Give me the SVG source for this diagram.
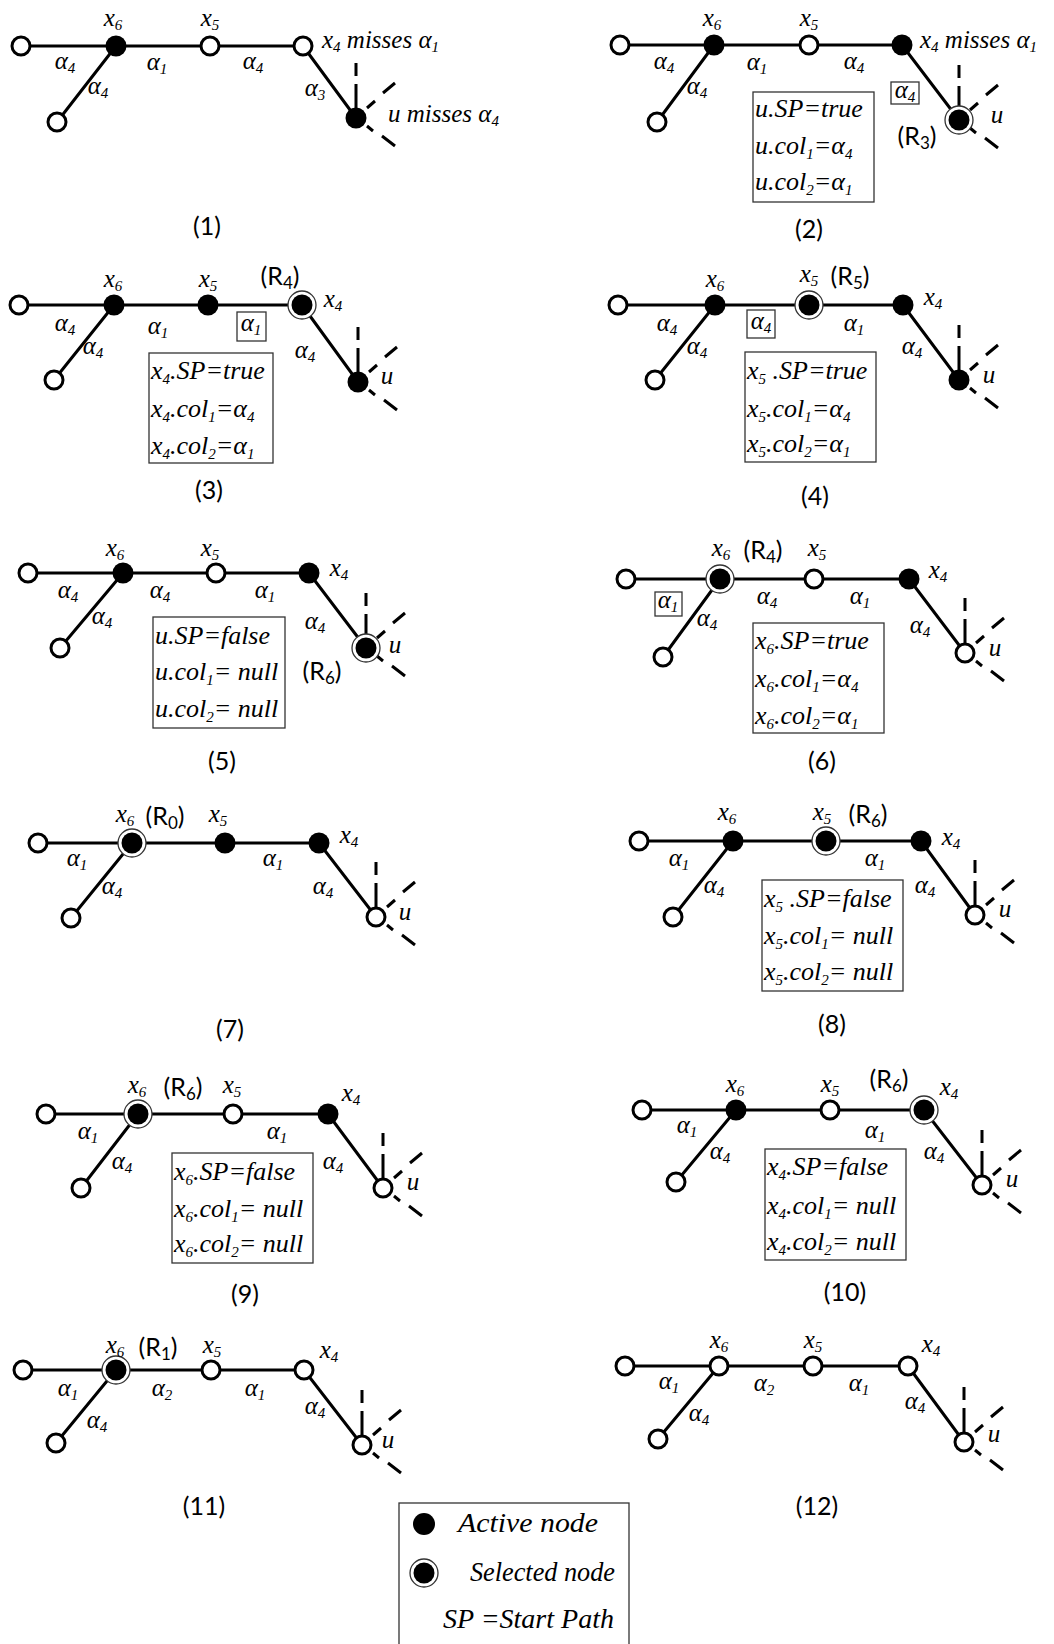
<svg xmlns="http://www.w3.org/2000/svg" xmlns:xlink="http://www.w3.org/1999/xlink" width="1054" height="1644" viewBox="0 0 1054 1644">
<style>
.e{stroke:#000;stroke-width:3;fill:none}
.o{fill:#fff;stroke:#000;stroke-width:3}
.f{fill:#000}
.r{fill:#fff;stroke:#333;stroke-width:1.3}
text{font-family:"Liberation Serif",serif;font-style:italic;font-size:25px;fill:#000}
.l{text-anchor:middle}
.s{font-size:15px}
.bt{font-size:26px}
.c{font-family:Lato,"Liberation Sans",sans-serif;font-style:normal;font-size:25px;text-anchor:middle}
.cs{font-size:17px}
.bx{fill:#fff;stroke:#333;stroke-width:1.3}
.ab{fill:none;stroke:#333;stroke-width:1.3}
.lg{font-size:28px}
</style>
<defs>
<g id="ud"><path d="M0,-55V-42M0,-34V-10M11,-10L19,-17M27,-25L39,-35M11,8L17,13M26,18L39,28" stroke="#000" stroke-width="3" fill="none"/></g>
</defs>
<rect width="1054" height="1644" fill="#fff"/>

<!-- Panel 1 -->
<g id="panel1">
<g id="p1-edges">
<path class="e" d="M21,46H303M116,46L57,122M303,46L356,118"/>
<use xlink:href="#ud" x="356" y="118"/>
<text class="l" x="65" y="69">α<tspan class="s" dy="4">4</tspan></text>
<text class="l" x="157" y="70">α<tspan class="s" dy="4">1</tspan></text>
<text class="l" x="253" y="69">α<tspan class="s" dy="4">4</tspan></text>
<text class="l" x="98" y="94">α<tspan class="s" dy="4">4</tspan></text>
<text class="l" x="315" y="96">α<tspan class="s" dy="4">3</tspan></text>
</g>
<g id="p1-n0"><circle class="o" cx="21" cy="46" r="9"/></g>
<g id="p1-x6"><circle class="f" cx="116" cy="46" r="10.5"/><text class="l" x="113" y="26">x<tspan class="s" dy="4">6</tspan></text></g>
<g id="p1-x5"><circle class="o" cx="210" cy="46" r="9"/><text class="l" x="210" y="26">x<tspan class="s" dy="4">5</tspan></text></g>
<g id="p1-x4"><circle class="o" cx="303" cy="46" r="9"/><text x="322" y="48">x<tspan class="s" dy="4">4</tspan><tspan dy="-4"> misses α</tspan><tspan class="s" dy="4">1</tspan></text></g>
<g id="p1-n1"><circle class="o" cx="57" cy="122" r="9"/></g>
<g id="p1-u"><circle class="f" cx="356" cy="118" r="10.5"/><text x="388" y="122">u misses α<tspan class="s" dy="4">4</tspan></text></g>
<text class="c" x="207" y="235">(1)</text>
</g>

<!-- Panel 2 -->
<g id="panel2">
<g id="p2-edges">
<path class="e" d="M620,45H902M714,45L657,122M902,45L959,120"/>
<use xlink:href="#ud" x="959" y="120"/>
<text class="l" x="664" y="69">α<tspan class="s" dy="4">4</tspan></text>
<text class="l" x="757" y="70">α<tspan class="s" dy="4">1</tspan></text>
<text class="l" x="854" y="69">α<tspan class="s" dy="4">4</tspan></text>
<text class="l" x="697" y="94">α<tspan class="s" dy="4">4</tspan></text>
<rect class="ab" x="891" y="82" width="28" height="22"/>
<text class="l" x="905" y="98">α<tspan class="s" dy="4">4</tspan></text>
</g>
<g id="p2-n0"><circle class="o" cx="620" cy="45" r="9"/></g>
<g id="p2-x6"><circle class="f" cx="714" cy="45" r="10.5"/><text class="l" x="712" y="26">x<tspan class="s" dy="4">6</tspan></text></g>
<g id="p2-x5"><circle class="o" cx="809" cy="45" r="9"/><text class="l" x="809" y="26">x<tspan class="s" dy="4">5</tspan></text></g>
<g id="p2-x4"><circle class="f" cx="902" cy="45" r="10.5"/><text x="920" y="48">x<tspan class="s" dy="4">4</tspan><tspan dy="-4"> misses α</tspan><tspan class="s" dy="4">1</tspan></text></g>
<g id="p2-n1"><circle class="o" cx="657" cy="122" r="9"/></g>
<g id="p2-u"><circle class="r" cx="959" cy="120" r="14"/><circle class="f" cx="959" cy="120" r="10.5"/><text class="l" x="997" y="123">u</text><text class="c" x="917" y="145">(R<tspan class="cs" dy="4">3</tspan><tspan dy="-4">)</tspan></text></g>
<g id="p2-box"><rect class="bx" x="753" y="92" width="121" height="110"/>
<text class="bt" x="755" y="117">u.SP=true</text>
<text class="bt" x="755" y="154">u.col<tspan class="s" dy="5">1</tspan><tspan dy="-5">=α</tspan><tspan class="s" dy="5">4</tspan></text>
<text class="bt" x="755" y="190">u.col<tspan class="s" dy="5">2</tspan><tspan dy="-5">=α</tspan><tspan class="s" dy="5">1</tspan></text></g>
<text class="c" x="809" y="238">(2)</text>
</g>

<!-- Panel 3 -->
<g id="panel3">
<g id="p3-edges">
<path class="e" d="M19,305H302M114,305L54,380M302,305L358,382"/>
<use xlink:href="#ud" x="358" y="382"/>
<text class="l" x="65" y="331">α<tspan class="s" dy="4">4</tspan></text>
<text class="l" x="158" y="334">α<tspan class="s" dy="4">1</tspan></text>
<rect class="ab" x="237" y="312" width="29" height="29"/>
<text class="l" x="251" y="331">α<tspan class="s" dy="4">1</tspan></text>
<text class="l" x="93" y="354">α<tspan class="s" dy="4">4</tspan></text>
<text class="l" x="305" y="358">α<tspan class="s" dy="4">4</tspan></text>
</g>
<g id="p3-n0"><circle class="o" cx="19" cy="305" r="9"/></g>
<g id="p3-x6"><circle class="f" cx="114" cy="305" r="10.5"/><text class="l" x="113" y="287">x<tspan class="s" dy="4">6</tspan></text></g>
<g id="p3-x5"><circle class="f" cx="208" cy="305" r="10.5"/><text class="l" x="208" y="287">x<tspan class="s" dy="4">5</tspan></text></g>
<g id="p3-x4"><circle class="r" cx="302" cy="305" r="14"/><circle class="f" cx="302" cy="305" r="10.5"/><text class="l" x="333" y="307">x<tspan class="s" dy="4">4</tspan></text><text class="c" x="280" y="285">(R<tspan class="cs" dy="4">4</tspan><tspan dy="-4">)</tspan></text></g>
<g id="p3-n1"><circle class="o" cx="54" cy="380" r="9"/></g>
<g id="p3-u"><circle class="f" cx="358" cy="382" r="10.5"/><text class="l" x="387" y="384">u</text></g>
<g id="p3-box"><rect class="bx" x="149" y="353" width="124" height="110"/>
<text class="bt" x="151" y="379">x<tspan class="s" dy="5">4</tspan><tspan dy="-5">.SP=true</tspan></text>
<text class="bt" x="151" y="417">x<tspan class="s" dy="5">4</tspan><tspan dy="-5">.col</tspan><tspan class="s" dy="5">1</tspan><tspan dy="-5">=α</tspan><tspan class="s" dy="5">4</tspan></text>
<text class="bt" x="151" y="454">x<tspan class="s" dy="5">4</tspan><tspan dy="-5">.col</tspan><tspan class="s" dy="5">2</tspan><tspan dy="-5">=α</tspan><tspan class="s" dy="5">1</tspan></text></g>
<text class="c" x="209" y="499">(3)</text>
</g>

<!-- Panel 4 -->
<g id="panel4">
<g id="p4-edges">
<path class="e" d="M618,305H903M715,305L655,380M903,305L959,380"/>
<use xlink:href="#ud" x="959" y="380"/>
<text class="l" x="667" y="331">α<tspan class="s" dy="4">4</tspan></text>
<rect class="ab" x="747" y="310" width="28" height="28"/>
<text class="l" x="761" y="329">α<tspan class="s" dy="4">4</tspan></text>
<text class="l" x="854" y="331">α<tspan class="s" dy="4">1</tspan></text>
<text class="l" x="697" y="354">α<tspan class="s" dy="4">4</tspan></text>
<text class="l" x="912" y="354">α<tspan class="s" dy="4">4</tspan></text>
</g>
<g id="p4-n0"><circle class="o" cx="618" cy="305" r="9"/></g>
<g id="p4-x6"><circle class="f" cx="715" cy="305" r="10.5"/><text class="l" x="715" y="287">x<tspan class="s" dy="4">6</tspan></text></g>
<g id="p4-x5"><circle class="r" cx="809" cy="305" r="14"/><circle class="f" cx="809" cy="305" r="10.5"/><text class="l" x="809" y="282">x<tspan class="s" dy="4">5</tspan></text><text class="c" x="850" y="285">(R<tspan class="cs" dy="4">5</tspan><tspan dy="-4">)</tspan></text></g>
<g id="p4-x4"><circle class="f" cx="903" cy="305" r="10.5"/><text class="l" x="933" y="305">x<tspan class="s" dy="4">4</tspan></text></g>
<g id="p4-n1"><circle class="o" cx="655" cy="380" r="9"/></g>
<g id="p4-u"><circle class="f" cx="959" cy="380" r="10.5"/><text class="l" x="989" y="383">u</text></g>
<g id="p4-box"><rect class="bx" x="745" y="352" width="131" height="110"/>
<text class="bt" x="747" y="379">x<tspan class="s" dy="5">5</tspan><tspan dy="-5"> .SP=true</tspan></text>
<text class="bt" x="747" y="417">x<tspan class="s" dy="5">5</tspan><tspan dy="-5">.col</tspan><tspan class="s" dy="5">1</tspan><tspan dy="-5">=α</tspan><tspan class="s" dy="5">4</tspan></text>
<text class="bt" x="747" y="452">x<tspan class="s" dy="5">5</tspan><tspan dy="-5">.col</tspan><tspan class="s" dy="5">2</tspan><tspan dy="-5">=α</tspan><tspan class="s" dy="5">1</tspan></text></g>
<text class="c" x="815" y="505">(4)</text>
</g>

<!-- Panel 5 -->
<g id="panel5">
<g id="p5-edges">
<path class="e" d="M28,573H309M123,573L60,648M309,573L366,648"/>
<use xlink:href="#ud" x="366" y="648"/>
<text class="l" x="68" y="598">α<tspan class="s" dy="4">4</tspan></text>
<text class="l" x="160" y="598">α<tspan class="s" dy="4">4</tspan></text>
<text class="l" x="265" y="598">α<tspan class="s" dy="4">1</tspan></text>
<text class="l" x="102" y="624">α<tspan class="s" dy="4">4</tspan></text>
<text class="l" x="315" y="629">α<tspan class="s" dy="4">4</tspan></text>
</g>
<g id="p5-n0"><circle class="o" cx="28" cy="573" r="9"/></g>
<g id="p5-x6"><circle class="f" cx="123" cy="573" r="10.5"/><text class="l" x="115" y="556">x<tspan class="s" dy="4">6</tspan></text></g>
<g id="p5-x5"><circle class="o" cx="216" cy="573" r="9"/><text class="l" x="210" y="556">x<tspan class="s" dy="4">5</tspan></text></g>
<g id="p5-x4"><circle class="f" cx="309" cy="573" r="10.5"/><text class="l" x="339" y="576">x<tspan class="s" dy="4">4</tspan></text></g>
<g id="p5-n1"><circle class="o" cx="60" cy="648" r="9"/></g>
<g id="p5-u"><circle class="r" cx="366" cy="648" r="14"/><circle class="f" cx="366" cy="648" r="10.5"/><text class="l" x="395" y="653">u</text><text class="c" x="322" y="680">(R<tspan class="cs" dy="4">6</tspan><tspan dy="-4">)</tspan></text></g>
<g id="p5-box"><rect class="bx" x="153" y="617" width="132" height="111"/>
<text class="bt" x="155" y="644">u.SP=false</text>
<text class="bt" x="155" y="680">u.col<tspan class="s" dy="5">1</tspan><tspan dy="-5">= null</tspan></text>
<text class="bt" x="155" y="717">u.col<tspan class="s" dy="5">2</tspan><tspan dy="-5">= null</tspan></text></g>
<text class="c" x="222" y="770">(5)</text>
</g>

<!-- Panel 6 -->
<g id="panel6">
<g id="p6-edges">
<path class="e" d="M626,579H909M720,579L663,657M909,579L965,653"/>
<use xlink:href="#ud" x="965" y="653"/>
<rect class="ab" x="655" y="592" width="27" height="24"/>
<text class="l" x="668" y="608">α<tspan class="s" dy="4">1</tspan></text>
<text class="l" x="767" y="604">α<tspan class="s" dy="4">4</tspan></text>
<text class="l" x="860" y="604">α<tspan class="s" dy="4">1</tspan></text>
<text class="l" x="707" y="626">α<tspan class="s" dy="4">4</tspan></text>
<text class="l" x="920" y="633">α<tspan class="s" dy="4">4</tspan></text>
</g>
<g id="p6-n0"><circle class="o" cx="626" cy="579" r="9"/></g>
<g id="p6-x6"><circle class="r" cx="720" cy="579" r="14"/><circle class="f" cx="720" cy="579" r="10.5"/><text class="l" x="721" y="556">x<tspan class="s" dy="4">6</tspan></text><text class="c" x="763" y="559">(R<tspan class="cs" dy="4">4</tspan><tspan dy="-4">)</tspan></text></g>
<g id="p6-x5"><circle class="o" cx="814" cy="579" r="9"/><text class="l" x="817" y="556">x<tspan class="s" dy="4">5</tspan></text></g>
<g id="p6-x4"><circle class="f" cx="909" cy="579" r="10.5"/><text class="l" x="938" y="578">x<tspan class="s" dy="4">4</tspan></text></g>
<g id="p6-n1"><circle class="o" cx="663" cy="657" r="9"/></g>
<g id="p6-u"><circle class="o" cx="965" cy="653" r="9"/><text class="l" x="995" y="656">u</text></g>
<g id="p6-box"><rect class="bx" x="753" y="623" width="131" height="110"/>
<text class="bt" x="755" y="649">x<tspan class="s" dy="5">6</tspan><tspan dy="-5">.SP=true</tspan></text>
<text class="bt" x="755" y="687">x<tspan class="s" dy="5">6</tspan><tspan dy="-5">.col</tspan><tspan class="s" dy="5">1</tspan><tspan dy="-5">=α</tspan><tspan class="s" dy="5">4</tspan></text>
<text class="bt" x="755" y="724">x<tspan class="s" dy="5">6</tspan><tspan dy="-5">.col</tspan><tspan class="s" dy="5">2</tspan><tspan dy="-5">=α</tspan><tspan class="s" dy="5">1</tspan></text></g>
<text class="c" x="822" y="770">(6)</text>
</g>

<!-- Panel 7 -->
<g id="panel7">
<g id="p7-edges">
<path class="e" d="M38,843H319M132,843L71,918M319,843L376,917"/>
<use xlink:href="#ud" x="376" y="917"/>
<text class="l" x="77" y="866">α<tspan class="s" dy="4">1</tspan></text>
<text class="l" x="273" y="866">α<tspan class="s" dy="4">1</tspan></text>
<text class="l" x="112" y="894">α<tspan class="s" dy="4">4</tspan></text>
<text class="l" x="323" y="894">α<tspan class="s" dy="4">4</tspan></text>
</g>
<g id="p7-n0"><circle class="o" cx="38" cy="843" r="9"/></g>
<g id="p7-x6"><circle class="r" cx="132" cy="843" r="14"/><circle class="f" cx="132" cy="843" r="10.5"/><text class="l" x="125" y="822">x<tspan class="s" dy="4">6</tspan></text><text class="c" x="165" y="825">(R<tspan class="cs" dy="4">0</tspan><tspan dy="-4">)</tspan></text></g>
<g id="p7-x5"><circle class="f" cx="225" cy="843" r="10.5"/><text class="l" x="218" y="822">x<tspan class="s" dy="4">5</tspan></text></g>
<g id="p7-x4"><circle class="f" cx="319" cy="843" r="10.5"/><text class="l" x="349" y="843">x<tspan class="s" dy="4">4</tspan></text></g>
<g id="p7-n1"><circle class="o" cx="71" cy="918" r="9"/></g>
<g id="p7-u"><circle class="o" cx="376" cy="917" r="9"/><text class="l" x="405" y="920">u</text></g>
<text class="c" x="230" y="1038">(7)</text>
</g>

<!-- Panel 8 -->
<g id="panel8">
<g id="p8-edges">
<path class="e" d="M639,841H921M733,841L673,917M921,841L975,915"/>
<use xlink:href="#ud" x="975" y="915"/>
<text class="l" x="679" y="866">α<tspan class="s" dy="4">1</tspan></text>
<text class="l" x="875" y="866">α<tspan class="s" dy="4">1</tspan></text>
<text class="l" x="714" y="893">α<tspan class="s" dy="4">4</tspan></text>
<text class="l" x="925" y="893">α<tspan class="s" dy="4">4</tspan></text>
</g>
<g id="p8-n0"><circle class="o" cx="639" cy="841" r="9"/></g>
<g id="p8-x6"><circle class="f" cx="733" cy="841" r="10.5"/><text class="l" x="727" y="820">x<tspan class="s" dy="4">6</tspan></text></g>
<g id="p8-x5"><circle class="r" cx="826" cy="841" r="14"/><circle class="f" cx="826" cy="841" r="10.5"/><text class="l" x="822" y="820">x<tspan class="s" dy="4">5</tspan></text><text class="c" x="868" y="823">(R<tspan class="cs" dy="4">6</tspan><tspan dy="-4">)</tspan></text></g>
<g id="p8-x4"><circle class="f" cx="921" cy="841" r="10.5"/><text class="l" x="951" y="845">x<tspan class="s" dy="4">4</tspan></text></g>
<g id="p8-n1"><circle class="o" cx="673" cy="917" r="9"/></g>
<g id="p8-u"><circle class="o" cx="975" cy="915" r="9"/><text class="l" x="1005" y="917">u</text></g>
<g id="p8-box"><rect class="bx" x="762" y="880" width="141" height="111"/>
<text class="bt" x="764" y="907">x<tspan class="s" dy="5">5</tspan><tspan dy="-5"> .SP=false</tspan></text>
<text class="bt" x="764" y="944">x<tspan class="s" dy="5">5</tspan><tspan dy="-5">.col</tspan><tspan class="s" dy="5">1</tspan><tspan dy="-5">= null</tspan></text>
<text class="bt" x="764" y="980">x<tspan class="s" dy="5">5</tspan><tspan dy="-5">.col</tspan><tspan class="s" dy="5">2</tspan><tspan dy="-5">= null</tspan></text></g>
<text class="c" x="832" y="1033">(8)</text>
</g>

<!-- Panel 9 -->
<g id="panel9">
<g id="p9-edges">
<path class="e" d="M46,1114H328M138,1114L81,1188M328,1114L383,1188"/>
<use xlink:href="#ud" x="383" y="1188"/>
<text class="l" x="88" y="1139">α<tspan class="s" dy="4">1</tspan></text>
<text class="l" x="277" y="1139">α<tspan class="s" dy="4">1</tspan></text>
<text class="l" x="122" y="1169">α<tspan class="s" dy="4">4</tspan></text>
<text class="l" x="333" y="1169">α<tspan class="s" dy="4">4</tspan></text>
</g>
<g id="p9-n0"><circle class="o" cx="46" cy="1114" r="9"/></g>
<g id="p9-x6"><circle class="r" cx="138" cy="1114" r="14"/><circle class="f" cx="138" cy="1114" r="10.5"/><text class="l" x="137" y="1093">x<tspan class="s" dy="4">6</tspan></text><text class="c" x="183" y="1096">(R<tspan class="cs" dy="4">6</tspan><tspan dy="-4">)</tspan></text></g>
<g id="p9-x5"><circle class="o" cx="233" cy="1114" r="9"/><text class="l" x="232" y="1093">x<tspan class="s" dy="4">5</tspan></text></g>
<g id="p9-x4"><circle class="f" cx="328" cy="1114" r="10.5"/><text class="l" x="351" y="1101">x<tspan class="s" dy="4">4</tspan></text></g>
<g id="p9-n1"><circle class="o" cx="81" cy="1188" r="9"/></g>
<g id="p9-u"><circle class="o" cx="383" cy="1188" r="9"/><text class="l" x="413" y="1190">u</text></g>
<g id="p9-box"><rect class="bx" x="172" y="1153" width="141" height="110"/>
<text class="bt" x="174" y="1180">x<tspan class="s" dy="5">6</tspan><tspan dy="-5">.SP=false</tspan></text>
<text class="bt" x="174" y="1217">x<tspan class="s" dy="5">6</tspan><tspan dy="-5">.col</tspan><tspan class="s" dy="5">1</tspan><tspan dy="-5">= null</tspan></text>
<text class="bt" x="174" y="1252">x<tspan class="s" dy="5">6</tspan><tspan dy="-5">.col</tspan><tspan class="s" dy="5">2</tspan><tspan dy="-5">= null</tspan></text></g>
<text class="c" x="245" y="1303">(9)</text>
</g>

<!-- Panel 10 -->
<g id="panel10">
<g id="p10-edges">
<path class="e" d="M642,1110H924M736,1110L676,1182M924,1110L982,1185"/>
<use xlink:href="#ud" x="982" y="1185"/>
<text class="l" x="687" y="1133">α<tspan class="s" dy="4">1</tspan></text>
<text class="l" x="875" y="1138">α<tspan class="s" dy="4">1</tspan></text>
<text class="l" x="720" y="1159">α<tspan class="s" dy="4">4</tspan></text>
<text class="l" x="934" y="1159">α<tspan class="s" dy="4">4</tspan></text>
</g>
<g id="p10-n0"><circle class="o" cx="642" cy="1110" r="9"/></g>
<g id="p10-x6"><circle class="f" cx="736" cy="1110" r="10.5"/><text class="l" x="735" y="1092">x<tspan class="s" dy="4">6</tspan></text></g>
<g id="p10-x5"><circle class="o" cx="830" cy="1110" r="9"/><text class="l" x="830" y="1092">x<tspan class="s" dy="4">5</tspan></text></g>
<g id="p10-x4"><circle class="r" cx="924" cy="1110" r="14"/><circle class="f" cx="924" cy="1110" r="10.5"/><text class="l" x="949" y="1095">x<tspan class="s" dy="4">4</tspan></text><text class="c" x="889" y="1088">(R<tspan class="cs" dy="4">6</tspan><tspan dy="-4">)</tspan></text></g>
<g id="p10-n1"><circle class="o" cx="676" cy="1182" r="9"/></g>
<g id="p10-u"><circle class="o" cx="982" cy="1185" r="9"/><text class="l" x="1012" y="1187">u</text></g>
<g id="p10-box"><rect class="bx" x="765" y="1149" width="141" height="111"/>
<text class="bt" x="767" y="1175">x<tspan class="s" dy="5">4</tspan><tspan dy="-5">.SP=false</tspan></text>
<text class="bt" x="767" y="1214">x<tspan class="s" dy="5">4</tspan><tspan dy="-5">.col</tspan><tspan class="s" dy="5">1</tspan><tspan dy="-5">= null</tspan></text>
<text class="bt" x="767" y="1250">x<tspan class="s" dy="5">4</tspan><tspan dy="-5">.col</tspan><tspan class="s" dy="5">2</tspan><tspan dy="-5">= null</tspan></text></g>
<text class="c" x="845" y="1301">(10)</text>
</g>

<!-- Panel 11 -->
<g id="panel11">
<g id="p11-edges">
<path class="e" d="M23,1370H304M116,1370L56,1443M304,1370L362,1445"/>
<use xlink:href="#ud" x="362" y="1445"/>
<text class="l" x="68" y="1396">α<tspan class="s" dy="4">1</tspan></text>
<text class="l" x="162" y="1396">α<tspan class="s" dy="4">2</tspan></text>
<text class="l" x="255" y="1396">α<tspan class="s" dy="4">1</tspan></text>
<text class="l" x="97" y="1428">α<tspan class="s" dy="4">4</tspan></text>
<text class="l" x="315" y="1414">α<tspan class="s" dy="4">4</tspan></text>
</g>
<g id="p11-n0"><circle class="o" cx="23" cy="1370" r="9"/></g>
<g id="p11-x6"><circle class="r" cx="116" cy="1370" r="14"/><circle class="f" cx="116" cy="1370" r="10.5"/><text class="l" x="115" y="1353">x<tspan class="s" dy="4">6</tspan></text><text class="c" x="158" y="1356">(R<tspan class="cs" dy="4">1</tspan><tspan dy="-4">)</tspan></text></g>
<g id="p11-x5"><circle class="o" cx="211" cy="1370" r="9"/><text class="l" x="212" y="1353">x<tspan class="s" dy="4">5</tspan></text></g>
<g id="p11-x4"><circle class="o" cx="304" cy="1370" r="9"/><text class="l" x="329" y="1358">x<tspan class="s" dy="4">4</tspan></text></g>
<g id="p11-n1"><circle class="o" cx="56" cy="1443" r="9"/></g>
<g id="p11-u"><circle class="o" cx="362" cy="1445" r="9"/><text class="l" x="388" y="1448">u</text></g>
<text class="c" x="204" y="1515">(11)</text>
</g>

<!-- Panel 12 -->
<g id="panel12">
<g id="p12-edges">
<path class="e" d="M625,1366H908M719,1366L658,1439M908,1366L964,1442"/>
<use xlink:href="#ud" x="964" y="1442"/>
<text class="l" x="669" y="1389">α<tspan class="s" dy="4">1</tspan></text>
<text class="l" x="764" y="1391">α<tspan class="s" dy="4">2</tspan></text>
<text class="l" x="859" y="1391">α<tspan class="s" dy="4">1</tspan></text>
<text class="l" x="699" y="1421">α<tspan class="s" dy="4">4</tspan></text>
<text class="l" x="915" y="1409">α<tspan class="s" dy="4">4</tspan></text>
</g>
<g id="p12-n0"><circle class="o" cx="625" cy="1366" r="9"/></g>
<g id="p12-x6"><circle class="o" cx="719" cy="1366" r="9"/><text class="l" x="719" y="1348">x<tspan class="s" dy="4">6</tspan></text></g>
<g id="p12-x5"><circle class="o" cx="813" cy="1366" r="9"/><text class="l" x="813" y="1348">x<tspan class="s" dy="4">5</tspan></text></g>
<g id="p12-x4"><circle class="o" cx="908" cy="1366" r="9"/><text class="l" x="931" y="1352">x<tspan class="s" dy="4">4</tspan></text></g>
<g id="p12-n1"><circle class="o" cx="658" cy="1439" r="9"/></g>
<g id="p12-u"><circle class="o" cx="964" cy="1442" r="9"/><text class="l" x="994" y="1442">u</text></g>
<text class="c" x="817" y="1515">(12)</text>
</g>

<!-- Legend -->
<g id="legend">
<rect x="399" y="1503" width="230" height="150" fill="#fff" stroke="#333" stroke-width="1.3"/>
<circle class="f" cx="424" cy="1524" r="11"/>
<text class="lg" x="458" y="1532" textLength="140" lengthAdjust="spacingAndGlyphs">Active node</text>
<circle class="r" cx="424" cy="1573" r="14"/>
<circle class="f" cx="424" cy="1573" r="10.5"/>
<text class="lg" x="470" y="1581" textLength="145" lengthAdjust="spacingAndGlyphs">Selected node</text>
<text class="lg" x="443" y="1628" textLength="171" lengthAdjust="spacingAndGlyphs">SP =Start Path</text>
</g>
</svg>
